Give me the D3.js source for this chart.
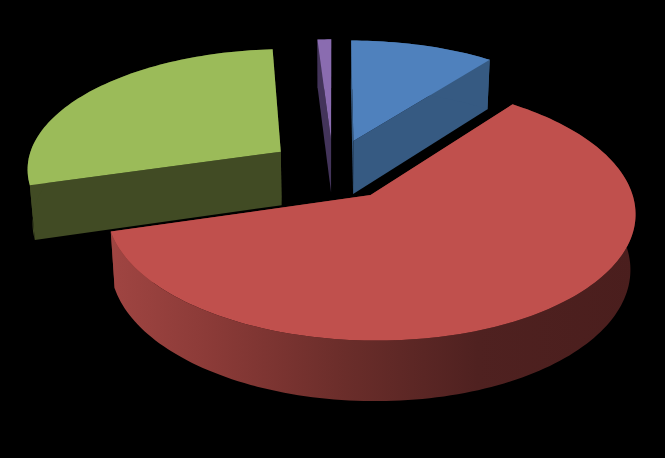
<!DOCTYPE html>
<html>
<head>
<meta charset="utf-8">
<script src="https://cdn.jsdelivr.net/npm/d3@7"></script>
<style>
html, body { margin: 0; padding: 0; background: #000; }
svg { display: block; }
</style>
</head>
<body>
<svg id="chart" width="665" height="458"></svg>
<script>
var categories = ['Blue', 'Red', 'Green', 'Purple'];
var values = [10.5, 60, 28.5, 1];
var topColors = ['#4f81bd', '#c0504d', '#9bbb59', '#8a6cb0'];
var wallColors = ['#365a82', '#7a2f2d', '#414b24', '#43345a'];

var width = 665, height = 458;
var cx = 333, cy = 169;
var radius = 255, explode = 65, depth = 55;
var tiltA = 0.47, persp = 0.0005, shrink = 0.0003;

var svg = d3.select('#chart');
var defs = svg.append('defs');

// 3d point on the pie plane to the screen
function project(x, y, z) {
    var w = 1 - persp * y + shrink * z;
    return [cx + x / w, cy + (tiltA * y + z) / w];
}

function polar(angle, r, off, z) {
    return project(off[0] + r * Math.sin(angle), off[1] - r * Math.cos(angle), z);
}

var pie = d3.pie().sort(null).value(function (d) { return d; });
var arcs = pie(values).map(function (d, i) {
    var mid = (d.startAngle + d.endAngle) / 2;
    return {
        i: i,
        startAngle: d.startAngle,
        endAngle: d.endAngle,
        off: [explode * Math.sin(mid), -explode * Math.cos(mid)]
    };
});

var line = d3.line();

function rimPoints(a, z) {
    var n = Math.max(4, Math.ceil((a.endAngle - a.startAngle) * 40));
    return d3.range(n + 1).map(function (k) {
        var t = a.startAngle + (a.endAngle - a.startAngle) * k / n;
        return polar(t, radius, a.off, z);
    });
}

function topPath(a) {
    return line([polar(0, 0, a.off, 0)].concat(rimPoints(a, 0))) + 'Z';
}

function rimPath(a) {
    return line(rimPoints(a, 0).concat(rimPoints(a, depth).reverse())) + 'Z';
}

function cutPath(a, angle) {
    return line([
        polar(0, 0, a.off, 0),
        polar(angle, radius, a.off, 0),
        polar(angle, radius, a.off, depth),
        polar(0, 0, a.off, depth)
    ]) + 'Z';
}

// rim shading on the red slice, lighter on the left, dark on the right
var grad = defs.append('linearGradient')
    .attr('id', 'rimRed')
    .attr('gradientUnits', 'userSpaceOnUse')
    .attr('x1', 110).attr('x2', 635).attr('y1', 0).attr('y2', 0);
[[0, '#a04542'], [0.2, '#8a3a37'], [0.45, '#6a2d2a'], [0.7, '#4f2120'], [1, '#4a1e1d']].forEach(function (s) {
    grad.append('stop').attr('offset', s[0]).attr('stop-color', s[1]);
});

// back to front
var order = [3, 0, 2, 1];
order.forEach(function (i) {
    var a = arcs[i];
    var g = svg.append('g').attr('class', 'slice').attr('data-name', categories[i]);
    g.append('path').attr('d', cutPath(a, a.endAngle)).attr('fill', wallColors[i]);
    g.append('path').attr('d', cutPath(a, a.startAngle)).attr('fill', wallColors[i]);
    g.append('path').attr('d', rimPath(a))
        .attr('fill', i === 1 ? 'url(#rimRed)' : wallColors[i]);
    g.append('path').attr('d', topPath(a)).attr('fill', topColors[i]);
});
</script>
</body>
</html>
